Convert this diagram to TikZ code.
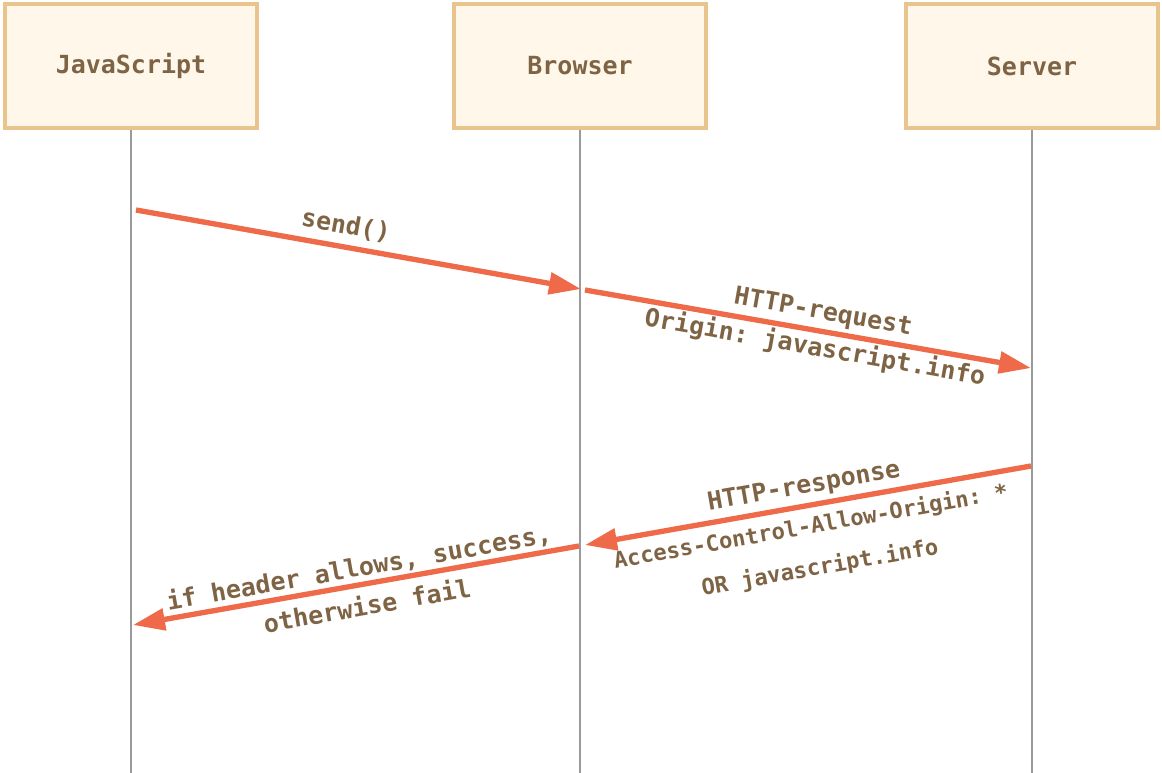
\documentclass[tikz,border=0pt]{standalone}
\usepackage{fontspec}
\setmonofont{DejaVu Sans Mono}
\usetikzlibrary{arrows.meta}
\definecolor{boxborder}{HTML}{E9C48D}
\definecolor{boxfill}{HTML}{FFF8EA}
\definecolor{txt}{HTML}{7E6444}
\definecolor{arr}{HTML}{EE6A49}
\definecolor{life}{HTML}{9A9A9A}
\begin{document}
\begin{tikzpicture}[x=0.75pt,y=-0.75pt,
  actor/.style={draw=boxborder, line width=3pt, fill=boxfill,
    minimum width=189pt, minimum height=93pt, inner sep=0pt,
    text=txt, font=\ttfamily\bfseries\fontsize{18.7pt}{22pt}\selectfont},
  lifeline/.style={draw=life, line width=1.1pt},
  msg/.style={draw=arr, line width=4pt, -{Triangle[length=24pt,width=16pt]}},
  lbl/.style={text=txt, inner sep=0pt, font=\ttfamily\bfseries\fontsize{18.7pt}{22pt}\selectfont},
  slbl/.style={text=txt, inner sep=0pt, font=\ttfamily\bfseries\fontsize{16.6pt}{20pt}\selectfont}]
\useasboundingbox (0,0) rectangle (1162,773);
\node[actor] (js) at (131,66) {JavaScript};
\node[actor] (br) at (580,66) {Browser};
\node[actor] (sv) at (1032,66) {Server};
\coordinate (jsend) at (131,773);
\coordinate (brend) at (580,773);
\coordinate (svend) at (1032,773);
\draw[lifeline] (js.south) -- (jsend);
\draw[lifeline] (br.south) -- (brend);
\draw[lifeline] (sv.south) -- (svend);
\coordinate (a1s) at (136,210);
\coordinate (a1e) at (581,289);
\coordinate (a2s) at (585,290);
\coordinate (a2e) at (1031,368);
\coordinate (a3s) at (1031,466);
\coordinate (a3e) at (585,545);
\coordinate (a4s) at (579,546);
\coordinate (a4e) at (133,625);
\draw[msg] (a1s) -- (a1e);
\draw[msg] (a2s) -- (a2e);
\draw[msg] (a3s) -- (a3e);
\draw[msg] (a4s) -- (a4e);
\node[lbl, rotate=-10] (l1) at (346,226) {send()};
\node[lbl, rotate=-10] (l2) at (823,313) {HTTP-request};
\node[lbl, rotate=-10] (l3) at (815,348) {Origin: javascript.info};
\node[lbl, rotate=10] (l4) at (804,487) {HTTP-response};
\node[slbl, rotate=10] (l5) at (811,527) {Access-Control-Allow-Origin: *};
\node[slbl, rotate=10] (l6) at (820,568) {OR javascript.info};
\node[lbl, rotate=10] (l7) at (359,568) {if header allows, success,};
\node[lbl, rotate=10] (l8) at (367,605) {otherwise fail};
\end{tikzpicture}
\end{document}
